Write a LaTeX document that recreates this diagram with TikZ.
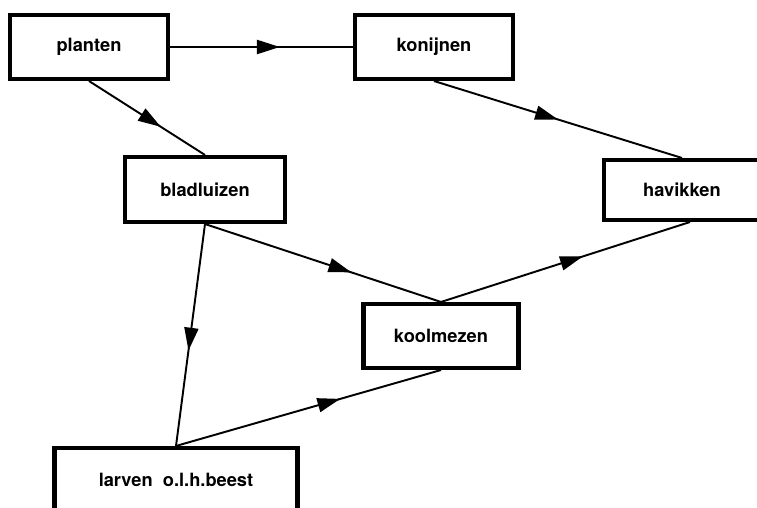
\documentclass[tikz,border=0pt]{standalone}
\usepackage{fontspec}
\setmainfont{TeX Gyre Heros}
\usetikzlibrary{arrows.meta,decorations.markings}

\begin{document}
\begin{tikzpicture}[
  box/.style={rectangle, draw, line width=2.3pt, minimum width=3.16cm, minimum height=1.28cm, inner sep=0pt, align=center, font=\bfseries\fontsize{10.4}{12}\selectfont},
  link/.style={line width=1.1pt, postaction={decorate}, decoration={markings, mark=at position #1 with {\arrow{Triangle[length=13pt,width=8pt]}}}},
  link/.default=0.57,
]
  \useasboundingbox (0,0) rectangle (15.14,10.16);
  \clip (0,0) rectangle (15.14,10.16);

  \node[box] (planten) at (1.78,9.22) {planten};
  \node[box] (konijnen) at (8.68,9.22) {konijnen};
  \node[box, minimum width=3.2cm, minimum height=1.3cm] (bladluizen) at (4.10,6.37) {bladluizen};
  \node[box, minimum width=3.12cm, minimum height=1.2cm] (havikken) at (13.64,6.36) {havikken};
  \node[box, minimum width=3.1cm] (koolmezen) at (8.82,3.44) {koolmezen};
  \node[box, minimum width=4.86cm] (larven) at (3.52,0.56) {larven\ \ o.l.h.beest};

  \draw[link=0.6] (planten.east) -- (konijnen.west);
  \draw[link=0.62] (planten.south) -- (bladluizen.north);
  \draw[link=0.5] (konijnen.south) -- (havikken.north);
  \draw[link=0.62] (bladluizen.south) -- (koolmezen.north);
  \draw[link] (bladluizen.south) -- (larven.north);
  \draw[link=0.62] (larven.north) -- (koolmezen.south);
  \draw[link] (koolmezen.north) -- ([xshift=0.16cm]havikken.south);
\end{tikzpicture}
\end{document}
